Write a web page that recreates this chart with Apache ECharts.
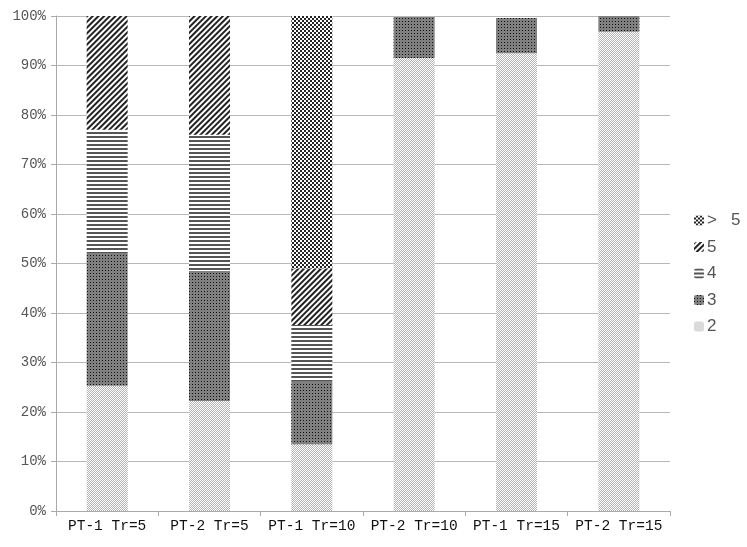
<!DOCTYPE html>
<html>
<head>
<meta charset="utf-8">
<script src="https://cdn.jsdelivr.net/npm/echarts@6/dist/echarts.min.js"></script>
<style>
  html, body { margin: 0; padding: 0; background: #fff; }
  #chart { width: 747px; height: 547px; }
</style>
</head>
<body>
<div id="chart"></div>
<script>
var categories = ['PT-1 Tr=5', 'PT-2 Tr=5', 'PT-1 Tr=10', 'PT-2 Tr=10', 'PT-1 Tr=15', 'PT-2 Tr=15']
var yTicks = ['0%', '10%', '20%', '30%', '40%', '50%', '60%', '70%', '80%', '90%', '100%']
// percent of each group
var s2 = [25.3, 22.2, 13.5, 91.5, 92.5, 96.8]
var s3 = [26.8, 26.3, 12.6, 8.3, 7.1, 3.2]
var s4 = [24.9, 27.5, 11.5, 0, 0, 0]
var s5 = [23.0, 24.0, 11.4, 0, 0, 0]
var s6 = [0, 0, 51.0, 0, 0, 0]

var chart = echarts.init(document.getElementById('chart'))

function bar(name, data, color, decal) {
  decal.rotation = decal.rotation || 0
  return {
    name: name,
    type: 'bar',
    stack: 'total',
    barWidth: 41,
    data: data,
    itemStyle: { color: color, decal: decal },
    emphasis: { disabled: true }
  }
}

chart.setOption({
  animation: false,
  grid: { left: 56, right: 77, top: 16, bottom: 36 },
  legend: {
    orient: 'vertical',
    left: 689,
    top: 207,
    itemWidth: 10,
    itemHeight: 10,
    itemGap: 9.5,
    data: ['>   5', '5', '4', '3', '2'],
    textStyle: { fontFamily: 'Liberation Sans', fontSize: 17, lineHeight: 17, color: '#555', padding: [0, 0, 0, -2] }
  },
  xAxis: {
    type: 'category',
    data: categories,
    axisLine: { lineStyle: { color: '#aaa' } },
    axisTick: { show: true, length: 5, lineStyle: { color: '#aaa' } },
    axisLabel: { interval: 0, fontFamily: 'Liberation Mono', fontSize: 14.5, color: '#111', margin: 8 }
  },
  yAxis: {
    type: 'value',
    min: 0,
    max: 100,
    interval: 10,
    axisLine: { show: true, lineStyle: { color: '#aaa' } },
    axisTick: { show: true, length: 5, lineStyle: { color: '#aaa' } },
    splitLine: { lineStyle: { color: '#b8b8b8' } },
    axisLabel: {
      fontFamily: 'Liberation Mono', fontSize: 14, color: '#555', margin: 10,
      formatter: function (v) { return yTicks[Math.round(v / 10)] }
    }
  },
  series: [
    bar('2', s2, '#fff', { color: '#b4b4b4', symbol: 'rect', symbolSize: 1, dashArrayX: [[1, 1], [0, 1, 1, 0]], dashArrayY: [1, 0] }),
    bar('3', s3, '#808080', { color: '#111', symbol: 'rect', symbolSize: 1, dashArrayX: [[1, 2]], dashArrayY: [1, 2] }),
    bar('4', s4, '#fff', { color: '#555', symbol: 'rect', symbolSize: 1, dashArrayX: [[1, 0]], dashArrayY: [2, 2] }),
    bar('5', s5, '#fff', { color: '#222', symbol: 'rect', symbolSize: 1, rotation: -Math.PI / 4, dashArrayX: [[1, 0]], dashArrayY: [1.5, 1.2] }),
    bar('>   5', s6, '#fff', { color: '#222', symbol: 'rect', symbolSize: 1, dashArrayX: [[2, 2], [0, 2, 2, 0]], dashArrayY: [2, 0] })
  ]
})
</script>
</body>
</html>
